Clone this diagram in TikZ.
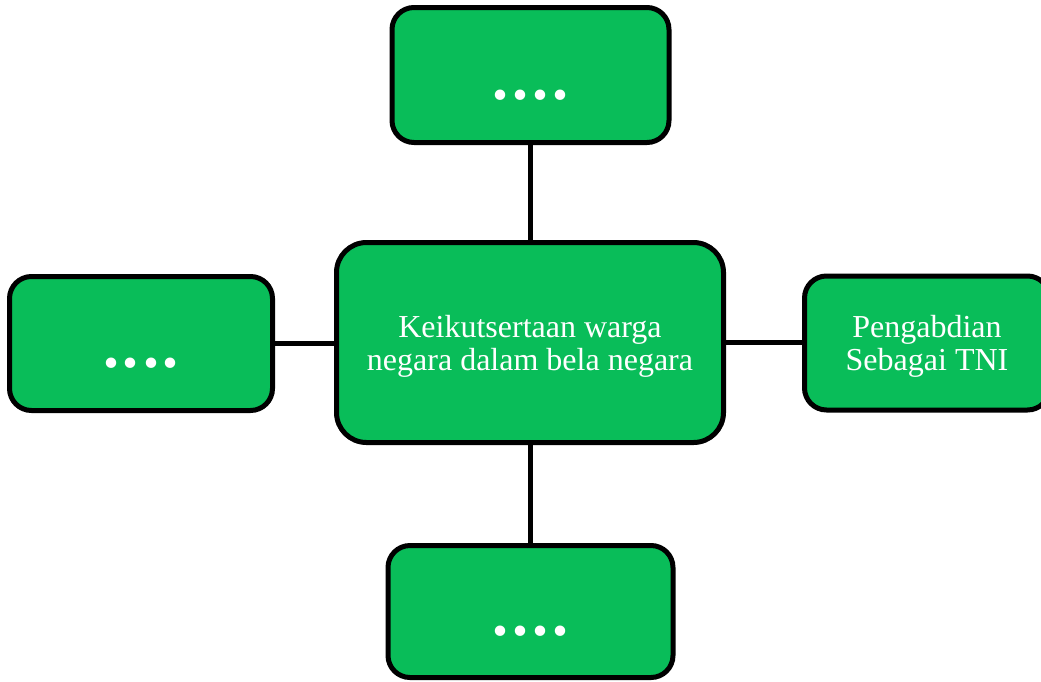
\documentclass[tikz,border=0pt]{standalone}
\usepackage{fontspec}
\setmainfont{Liberation Serif}
\definecolor{boxgreen}{RGB}{9,189,89}
\tikzset{
  x=1pt,y=1pt,
  gbox/.style={draw=black,line width=5pt,fill=boxgreen,rounded corners=22pt,
    text=white,align=center,inner sep=0pt,
    font=\fontsize{32}{33}\selectfont},
  bigbox/.style={gbox,rounded corners=30pt},
  conn/.style={draw=black,line width=5pt},
}
\newcommand{\fourdots}{\smash{\raisebox{-24pt}{\fontsize{64}{64}\selectfont\bfseries .\kern4pt.\kern4pt.\kern4pt.}}}
\begin{document}
\begin{tikzpicture}
\clip (0,0) rectangle (1041,-681);
\fill[white] (0,0) rectangle (1041,-681);
\node[bigbox,minimum width=387pt,minimum height=200pt] (c) at (530,-342.5)
  {\rule{0pt}{30pt}Keikutsertaan warga\\negara dalam bela negara};
\node[gbox,minimum width=277pt,minimum height=135pt] (t) at (530.5,-75) {\fourdots};
\node[gbox,minimum width=263pt,minimum height=134pt] (l) at (141,-343.5) {\fourdots};
\node[gbox,minimum width=245pt,minimum height=134pt] (r) at (927,-343) {\rule{0pt}{29pt}Pengabdian\\Sebagai TNI};
\node[gbox,minimum width=285pt,minimum height=132pt] (b) at (530.5,-611.5) {\fourdots};
\draw[conn] (t.south) -- (t.south |- c.north);
\draw[conn] (b.north |- c.south) -- (b.north);
\draw[conn] (l.east) -- (l.east -| c.west);
\draw[conn] (c.east) -- (c.east -| r.west);
\end{tikzpicture}
\end{document}
